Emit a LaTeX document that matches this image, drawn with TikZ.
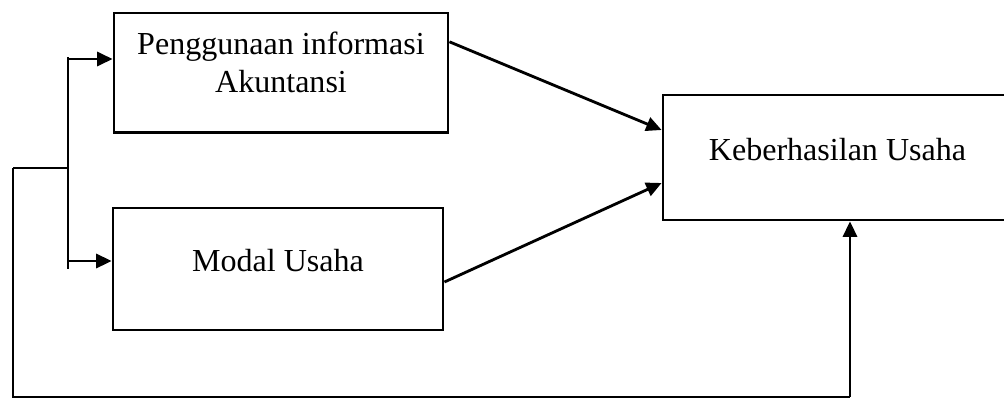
\documentclass[tikz,border=0pt]{standalone}
\usepackage{fontspec}
\setmainfont{Liberation Serif}
\usetikzlibrary{calc, arrows.meta}

\tikzset{
	varbox/.style={draw, line width=1.1pt, rectangle, align=center, inner sep=2pt,
		font=\fontsize{12.5}{14.8}\selectfont, text height=9pt, text depth=6.7pt},
	flow/.style={line width=1.1pt, -{Triangle[length=6pt, width=5.5pt]}},
	stem/.style={line width=1.1pt}
}

\begin{document}
\begin{tikzpicture}[x=0.39pt, y=-0.39pt]
\useasboundingbox (0,0) rectangle (1004,399);

% independent variables
\node [varbox, minimum width=130.3pt, minimum height=46.6pt, text height=23.5pt, text depth=8pt] (info) at (281, 72.8) {Penggunaan informasi\\Akuntansi};
\node [varbox, minimum width=128.7pt, minimum height=47.6pt] (modal) at (278, 269) {Modal Usaha};

% dependent variable (cut off at the right edge)
\node [varbox, minimum width=136.1pt, minimum height=48.75pt] (hasil) at (837.5, 157.5) {Keberhasilan Usaha};

% left bracket
\coordinate (top) at (68, 57);
\coordinate (bot) at (68, 269);
\coordinate (mid) at (68, 168);
\coordinate (left) at (13, 168);
\coordinate (t1) at (68, 59);
\coordinate (b1) at (68, 261);
\draw [stem] (top) -- (bot);
\draw [stem] (mid) -- (left);
\draw [flow] (t1) -- (t1 -| info.west);
\draw [flow] (b1) -- (b1 -| modal.west);

% direct effects
\draw [flow] ($(info.east)+(0,-31)$) -- ($(hasil.west)+(0,-27.5)$);
\draw [flow] ($(modal.east)+(0,13)$) -- ($(hasil.west)+(0,25.5)$);

% joint effect
\coordinate (bl) at (13, 397);
\coordinate (br) at (850, 397);
\draw [stem] (left) -- (bl) -- (br);
\draw [flow] (br) -- (br |- hasil.south);
\end{tikzpicture}
\end{document}
